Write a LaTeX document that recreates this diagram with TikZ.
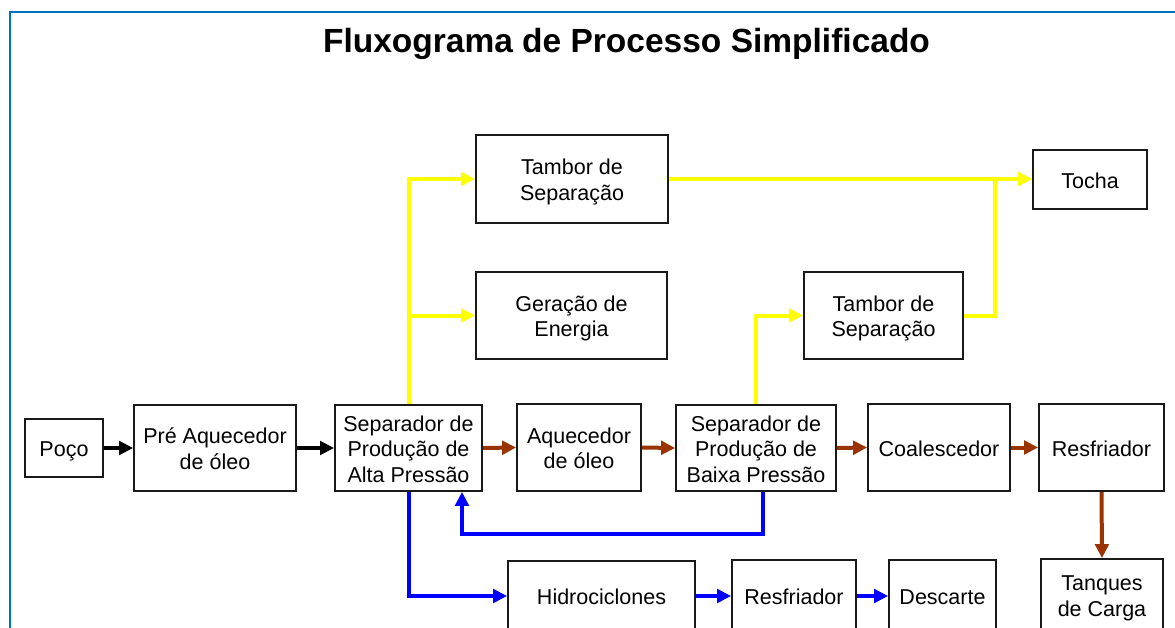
\documentclass[tikz,border=0pt]{standalone}
\usepackage{fontspec}
\setmainfont{Liberation Sans}
\usetikzlibrary{arrows.meta}
\definecolor{framecol}{HTML}{0070C0}
\definecolor{yel}{HTML}{FFFF00}
\definecolor{brn}{HTML}{993300}
\definecolor{blu}{HTML}{0000FF}
\newcommand{\boxtxt}[1]{\raisebox{-3.6pt}[\height][\depth]{\begin{tabular}{@{}c@{}}#1\end{tabular}}}
\tikzset{
  box/.style={draw=black!90, line width=1.8pt, fill=white, inner sep=0pt,
    font=\fontsize{21.5}{25.5}\selectfont},
  conn/.style={line width=4pt, -{Triangle[length=14pt,width=13.5pt]}},
  plain/.style={line width=4pt},
}
\begin{document}
\begin{tikzpicture}[x=1pt,y=-1pt]
\useasboundingbox (0,0) rectangle (1175,628);
\clip (0,0) rectangle (1175,628);
\fill[white] (0,0) rectangle (1175,628);
\draw[framecol, line width=2.2pt] (10,650) -- (10,12) -- (1190,12);
\node[anchor=base, font=\fontsize{33.5}{38}\selectfont\bfseries] (title) at (626.5,53) {Fluxograma de Processo Simplificado};
% nodes
\node[box, minimum width=78pt, minimum height=58pt] (poco) at (64,448) {\boxtxt{Poço}};
\node[box, minimum width=162pt, minimum height=86pt] (pre) at (215,448) {\boxtxt{Pré Aquecedor\\de óleo}};
\node[box, minimum width=147pt, minimum height=86pt] (sepA) at (408.5,448) {\boxtxt{Separador de\\Produção de\\Alta Pressão}};
\node[box, minimum width=124pt, minimum height=87pt] (aq) at (579,447.5) {\boxtxt{Aquecedor\\de óleo}};
\node[box, minimum width=160pt, minimum height=86pt] (sepB) at (756,448) {\boxtxt{Separador de\\Produção de\\Baixa Pressão}};
\node[box, minimum width=142pt, minimum height=87pt] (coal) at (939,447.5) {\boxtxt{Coalescedor}};
\node[box, minimum width=125pt, minimum height=87pt] (resf) at (1101.5,447.5) {\boxtxt{Resfriador}};
\node[box, minimum width=122pt, minimum height=72pt] (tanq) at (1102,595) {\boxtxt{Tanques\\de Carga}};
\node[box, minimum width=187pt, minimum height=70pt] (hidro) at (601.5,596) {\boxtxt{Hidrociclones}};
\node[box, minimum width=124pt, minimum height=72pt] (resf2) at (794,596) {\boxtxt{Resfriador}};
\node[box, minimum width=107pt, minimum height=72pt] (desc) at (942.5,596) {\boxtxt{Descarte}};
\node[box, minimum width=192pt, minimum height=88pt] (tamb1) at (572,179) {\boxtxt{Tambor de\\Separação}};
\node[box, minimum width=191pt, minimum height=87pt] (ger) at (571.5,315.5) {\boxtxt{Geração de\\Energia}};
\node[box, minimum width=159pt, minimum height=87pt] (tamb2) at (883.5,315.5) {\boxtxt{Tambor de\\Separação}};
\node[box, minimum width=114pt, minimum height=59pt] (tocha) at (1090,179.5) {\boxtxt{Tocha}};
% black
\draw[conn, black] (poco.east) -- (pre.west);
\draw[conn, black] (pre.east) -- (sepA.west);
% brown
\draw[conn, brn] (sepA.east) -- (aq.west);
\draw[conn, brn] (aq.east) -- (sepB.west);
\draw[conn, brn] (sepB.east) -- (coal.west);
\draw[conn, brn] (coal.east) -- (resf.west);
\draw[conn, brn] (resf.south) -- (tanq.north);
% yellow
\coordinate (yb) at (sepA.north |- ger.west);
\coordinate (yj) at (995,179);
\draw[conn, yel] (sepA.north) |- (tamb1.west);
\draw[conn, yel] (yb) -- (ger.west);
\draw[conn, yel] (tamb1.east) -- (tamb1.east -| tocha.west);
\draw[plain, yel] (tamb2.east) -| (yj);
\draw[conn, yel] (sepB.north) |- (tamb2.west);
% blue
\coordinate (r0) at ([xshift=7pt]sepB.south);
\coordinate (r1) at (763,534);
\coordinate (r2) at (462,534);
\draw[conn, blu] (sepA.south) |- (hidro.west);
\draw[conn, blu] (r0) -- (r1) -- (r2) -- (r2 |- sepA.south);
\draw[conn, blu] (hidro.east) -- (resf2.west);
\draw[conn, blu] (resf2.east) -- (desc.west);
\end{tikzpicture}
\end{document}
